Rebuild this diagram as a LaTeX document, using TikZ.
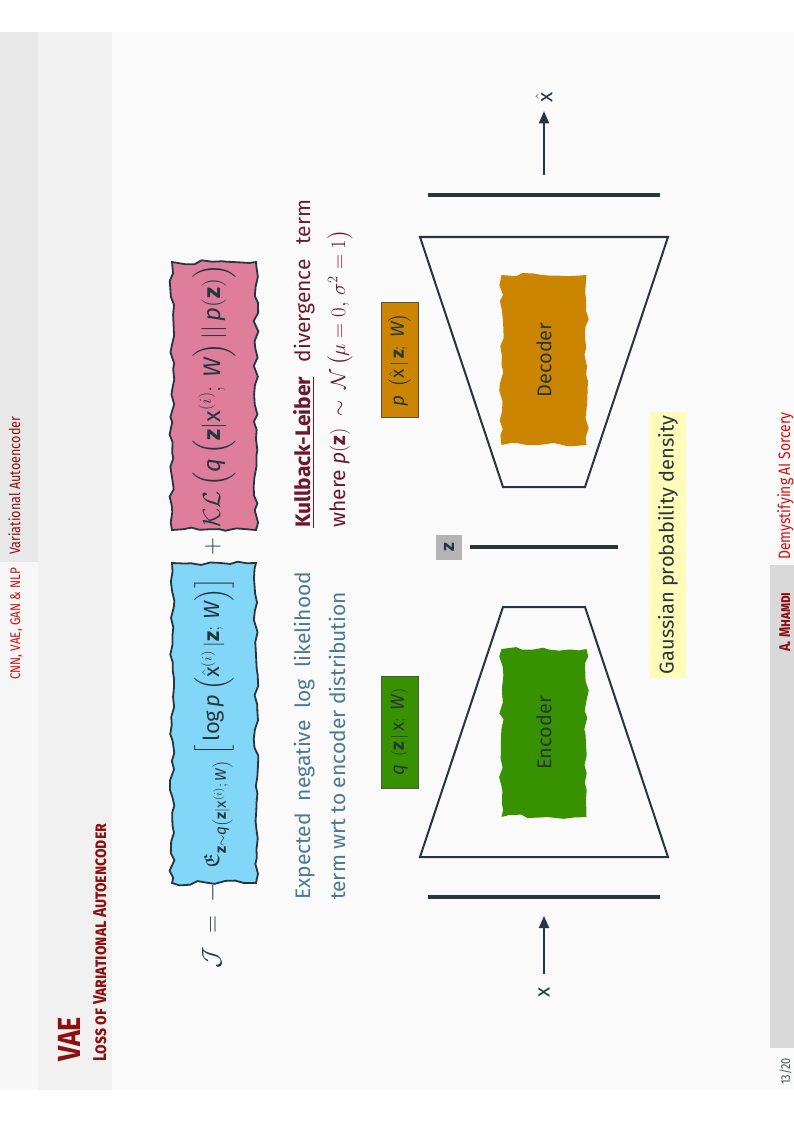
\documentclass[tikz,border=0pt]{standalone}
\usepackage{amsmath, amssymb}
\usepackage{fontspec}
\setmainfont{Fira Sans}
\newfontfamily\condfont{Fira Sans}[FakeStretch=0.84]
\usetikzlibrary{arrows.meta, decorations.pathmorphing}

\tikzset{
  rotated/.style={rotate=90},
  ink/.style={text={rgb, 255:red, 38; green, 54; blue, 60 }},
  tornbox/.style={decorate, decoration={random steps, segment length=9pt, amplitude=2.4pt}},
  eqbox/.style={tornbox, draw={rgb, 255:red, 38; green, 54; blue, 60 }, line width=1.8pt, minimum height=84pt},
  netbox/.style={tornbox, minimum height=85pt, font=\fontsize{20}{20}\selectfont, ink},
  labelbox/.style={draw={rgb, 255:red, 80; green, 80; blue, 80 }, line width=0.8pt, minimum height=37pt, font=\fontsize{19}{19}\selectfont, ink},
  eqfont/.style={font=\fontsize{24}{28}\selectfont, ink},
  bodyfont/.style={font=\fontsize{21}{35}\selectfont},
  barline/.style={draw={rgb, 255:red, 38; green, 54; blue, 60 }, line width=4.5pt},
  trapline/.style={draw={rgb, 255:red, 38; green, 54; blue, 60 }, line width=2pt, line join=miter},
  flow/.style={draw={rgb, 255:red, 38; green, 54; blue, 60 }, fill={rgb, 255:red, 38; green, 54; blue, 60 }, line width=2pt, -{Triangle[length=12pt, width=10pt]}},
}

\begin{document}
\pgfmathsetseed{7}
\begin{tikzpicture}[x=1pt,y=1pt,yscale=-1,xscale=1, every node/.style={inner sep=0pt}]

%Shape: Page and slide background
\fill [white] (0,0) rectangle (794,1123);
\useasboundingbox (0,0) rectangle (794,1123);
\fill [color={rgb, 255:red, 250; green, 250; blue, 250 }] (0,32) rectangle (794,1090);
\fill [color={rgb, 255:red, 232; green, 232; blue, 232 }] (0,32) rectangle (38,562);
\fill [color={rgb, 255:red, 247; green, 247; blue, 247 }] (0,562) rectangle (38,1090);
\fill [color={rgb, 255:red, 241; green, 241; blue, 241 }] (38,32) rectangle (112,1090);
\fill [color={rgb, 255:red, 217; green, 217; blue, 217 }] (770,565) rectangle (794,1048);

% Text Node: header
\node (section) [rotated, anchor=base west, font=\condfont\fontsize{14}{14}\selectfont, text={rgb, 255:red, 208; green, 16; blue, 16 }] at (20,680) {CNN, VAE, GAN \& NLP};
\node (subsection) [rotated, anchor=base west, font=\condfont\fontsize{15}{15}\selectfont, text={rgb, 255:red, 140; green, 16; blue, 16 }] at (20,555) {Variational Autoencoder};
% Text Node: frame title
\node (title) [rotated, anchor=base west, font=\condfont\bfseries\fontsize{32}{32}\selectfont, text={rgb, 255:red, 140; green, 16; blue, 16 }] at (80,1062) {VAE};
\node (subtitle) [rotated, anchor=base west, font=\condfont\bfseries\fontsize{18.5}{18.5}\selectfont, text={rgb, 255:red, 140; green, 16; blue, 16 }] at (106,1062) {\textsc{Loss of Variational Autoencoder}};
% Text Node: footer
\node (pageno) [rotated, anchor=base west, font=\condfont\fontsize{13}{13}\selectfont, text={rgb, 255:red, 70; green, 80; blue, 85 }] at (790,1085) {13/20};
\node (author) [rotated, anchor=base west, font=\condfont\bfseries\fontsize{15.5}{15.5}\selectfont, text={rgb, 255:red, 140; green, 16; blue, 16 }] at (790,652) {A. \textsc{Mhamdi}};
\node (venue) [rotated, anchor=base west, font=\condfont\fontsize{16.5}{16.5}\selectfont, text={rgb, 255:red, 208; green, 16; blue, 16 }] at (790,560) {Demystifying AI Sorcery};

% Text Node: loss equation
\node (lhs) [rotated, anchor=base, eqfont] at (219,926) {$\mathcal{J}\ =\ -$};
\node (expterm) [rotated, eqbox, fill={rgb, 255:red, 130; green, 214; blue, 248 }, minimum width=320pt, eqfont, font=\fontsize{22}{27}\selectfont] at (214,723) {$\mathfrak{E}_{\mathbf{z}\sim \mathit{q}\left(\mathbf{z}|\mathrm{x}^{(i)};\,\mathit{W}\right)}\ \Big[\log \mathit{p}\,\Big(\hat{\mathrm{x}}^{(i)}\,|\mathbf{z};\,\mathit{W}\Big)\Big]$};
\node (plus) [rotated, anchor=base, eqfont] at (219,547) {$+$};
\node (klterm) [rotated, eqbox, fill={rgb, 255:red, 222; green, 126; blue, 156 }, minimum width=268pt, eqfont] at (214,396) {$\mathcal{KL}\,\Big(\mathit{q}\,\Big(\mathbf{z}|\mathrm{x}^{(i)};\,\mathit{W}\Big)\,||\,\mathit{p}(\mathbf{z})\Big)$};

% Text Node: explanations
\node (expnote) [rotated, anchor=base west, text width=328pt, align=justify, bodyfont, text={rgb, 255:red, 74; green, 120; blue, 150 }] at (310,900) {Expected negative log likelihood\linebreak term wrt to encoder distribution};
\node (klnote) [rotated, anchor=base west, text width=328pt, align=justify, bodyfont, text={rgb, 255:red, 110; green, 24; blue, 48 }] at (310,528) {\underline{\textbf{Kullback-Leiber}} divergence term\linebreak where $\mathit{p}(\mathbf{z})\ \sim\ \mathcal{N}\left(\mu = 0,\, \sigma^2 = 1\right)$};

%Shape: Encoder and decoder funnels
\draw [trapline] (420,857) -- (668,857) -- (585,607) -- (503,607) -- cycle;
\draw [trapline] (420,237) -- (668,237) -- (585,487) -- (503,487) -- cycle;
%Straight Lines: layers
\draw [barline] (428,897) -- (660,897);
\draw [barline] (470,547) -- (618,547);
\draw [barline] (428,195) -- (660,195);

% Text Node: networks
\node (encoder) [rotated, netbox, fill={rgb, 255:red, 56; green, 146; blue, 0 }, minimum width=168pt] at (544,733) {Encoder};
\node (decoder) [rotated, netbox, fill={rgb, 255:red, 204; green, 133; blue, 0 }, minimum width=170pt] at (544,360) {Decoder};
% Text Node: distributions
\node (qdist) [rotated, labelbox, fill={rgb, 255:red, 56; green, 146; blue, 0 }, minimum width=112pt] at (399.5,732) {$\mathit{q}\ \left(\mathbf{z}\,|\,\mathrm{x};\ \mathit{W}\right)$};
\node (pdist) [rotated, labelbox, fill={rgb, 255:red, 204; green, 133; blue, 0 }, minimum width=115pt] at (399.5,360) {$\mathit{p}\ \left(\hat{\mathrm{x}}\,|\,\mathbf{z};\ \mathit{W}\right)$};
\node (latent) [rotated, fill={rgb, 255:red, 180; green, 180; blue, 180 }, minimum width=25pt, minimum height=26pt, font=\fontsize{19}{19}\selectfont, ink] at (449,547) {$\mathbf{z}$};
\node (gauss) [rotated, fill={rgb, 255:red, 255; green, 251; blue, 185 }, minimum width=266pt, minimum height=36pt, font=\fontsize{20}{20}\selectfont, ink] at (668,545) {Gaussian probability density};

% Text Node: input and output
\node (xin) [rotated, font=\fontsize{21}{21}\selectfont, ink] at (544,992) {x};
\node (xout) [rotated, font=\fontsize{21}{21}\selectfont, ink] at (544,97) {$\hat{\mathrm{x}}$};
\coordinate (intip) at (544,916);
\coordinate (outtail) at (544,175);
\draw [flow, shorten <=13pt] (xin) -- (intip);
\draw [flow, shorten >=9pt] (outtail) -- (xout);

\end{tikzpicture}
\end{document}
